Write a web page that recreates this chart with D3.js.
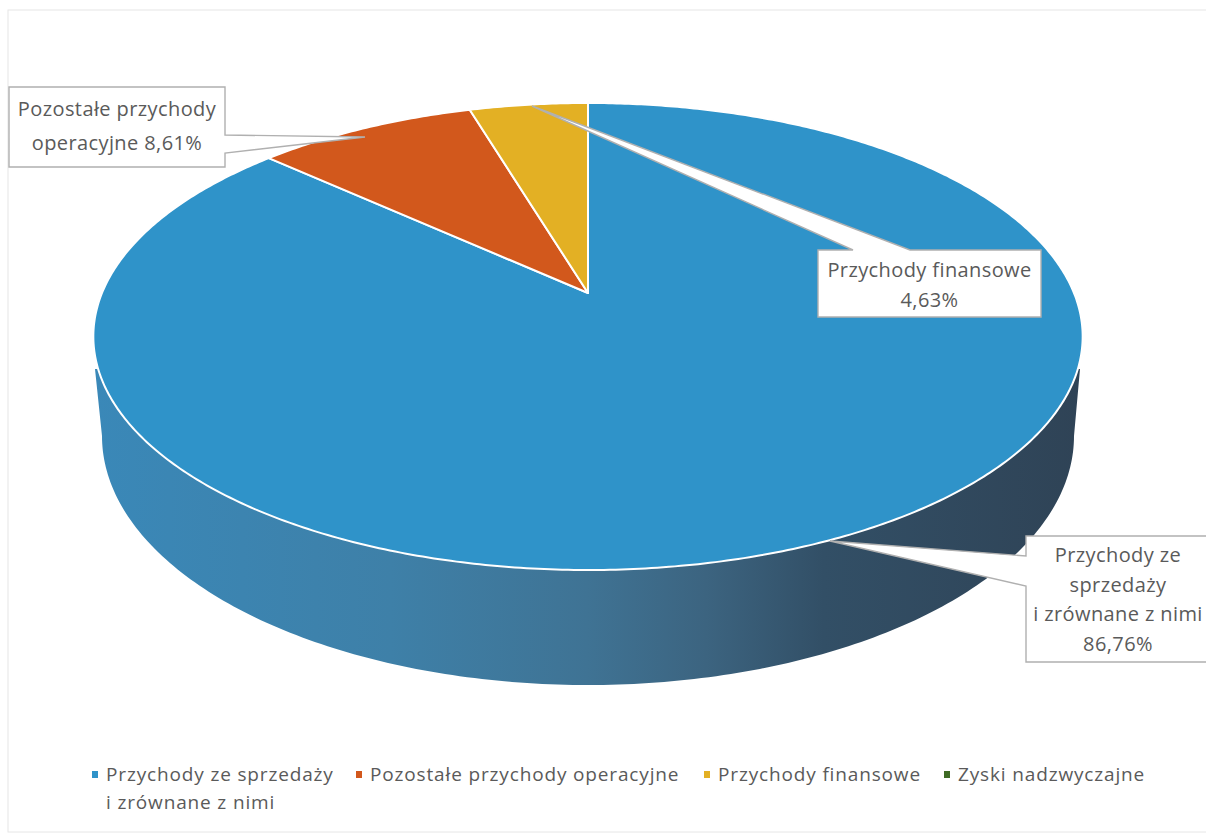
<!DOCTYPE html>
<html><head><meta charset="utf-8">
<script src="https://cdn.jsdelivr.net/npm/d3@7"></script>
<style>html,body{margin:0;padding:0;background:#fff}svg{display:block}text{font-family:"Open Sans","Noto Sans",sans-serif;fill:#5a5a5a}</style>
</head><body><div id="c"></div>
<script>
const categories=["Przychody ze sprzedaży i zrównane z nimi","Pozostałe przychody operacyjne","Przychody finansowe","Zyski nadzwyczajne"];
const values=[86.76,8.61,4.63,0];
const colors=["#2f93c9","#d2581c","#e3b024","#3f6b25"];
const legendLines=[["Przychody ze sprzedaży","i zrównane z nimi"],["Pozostałe przychody operacyjne"],["Przychody finansowe"],["Zyski nadzwyczajne"]];
const legendX=[92,356,704,944];
const W=1206,H=837;
const svg=d3.select("#c").append("svg").attr("width",W).attr("height",H);
svg.append("rect").attr("x",8).attr("y",10).attr("width",1300).attr("height",822).attr("fill","none").attr("stroke","#e6e6e6").attr("stroke-width",1);
const cx=588,cy=293,k=0.1863,A=225.4,B=486;
const project=a=>{const x=Math.sin(a),y=Math.cos(a),d=1+k*y;return [cx+B*x/d,cy-A*y/d];};
const pie=d3.pie().sort(null).value(d=>d);
const toPts=(s,e)=>{const n=Math.max(2,Math.ceil((e-s)/0.01));return d3.range(n+1).map(i=>project(s+(e-s)*i/n));};
const line=d3.line();
const defs=svg.append("defs");
const g=defs.append("linearGradient").attr("id","wall").attr("x1",0).attr("x2",1).attr("y1",0).attr("y2",0);
[[0,"#3a88b8"],[0.3,"#3e80a8"],[0.5,"#3f7394"],[0.62,"#3c6480"],[0.74,"#324f66"],[1,"#2f4356"]].forEach(s=>g.append("stop").attr("offset",s[0]).attr("stop-color",s[1]));
// side wall
const ex=486,ey=249,ecy=436,rise=369;
const ell=d3.scaleLinear().domain([0,1]).range([0,Math.PI]);
const wallPts=[[cx-493,rise],[cx+492,rise]].concat(d3.range(0,1.0001,0.005).map(t=>[cx+ex*Math.cos(ell(t)),ecy+ey*Math.sin(ell(t))]));
svg.append("path").attr("d",line(wallPts)+"Z").attr("fill","url(#wall)");
// top slices, clockwise from 12 o'clock
pie(values).forEach((d,i)=>{ if(d.value===0)return;
  const pts=[[cx,cy]].concat(toPts(d.startAngle,d.endAngle));
  svg.append("path").attr("d",line(pts)+"Z").attr("fill",colors[i]).attr("stroke","#fff").attr("stroke-width",2).attr("stroke-linejoin","round");
});
// callouts
function callout(x,w,poly,lines,fs,lh,ty){
  svg.append("path").attr("d",line(poly)+"Z").attr("fill","#fff").attr("stroke","#b0b0b0").attr("stroke-width",1.4);
  lines.forEach((t,i)=>svg.append("text").attr("x",x+w/2).attr("y",ty+i*lh).attr("text-anchor","middle").attr("font-size",fs).attr("letter-spacing",0.4).text(t));
}
callout(9,216,[[9,87],[225,87],[225,135],[365,137],[225,153],[225,167],[9,167]],["Pozostałe przychody","operacyjne 8,61%"],20,34,116);
callout(818,223,[[818,250],[853,250],[532,106],[910,250],[1041,250],[1041,317],[818,317]],["Przychody finansowe","4,63%"],20,30,277);
callout(1026,184,[[1026,536],[1210,536],[1210,662],[1026,662],[1026,586],[830,541],[1026,556]],["Przychody ze","sprzedaży","i zrównane z nimi","86,76%"],20,29.5,562);
// legend
categories.forEach((c,i)=>{
  svg.append("rect").attr("x",legendX[i]).attr("y",771).attr("width",6).attr("height",7).attr("fill",colors[i]);
  legendLines[i].forEach((t,j)=>svg.append("text").attr("x",legendX[i]+14).attr("y",781+j*28).attr("font-size",19).attr("letter-spacing",0.85).text(t));
});
</script></body></html>
